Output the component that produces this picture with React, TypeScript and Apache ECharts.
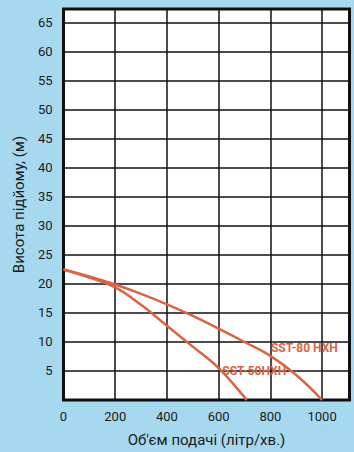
import React, { useEffect, useRef } from "react";
import * as echarts from "echarts";

const flowX = [0, 100, 200, 300, 400, 500, 600, 700, 800, 900, 1000];
const sst80 = [22.5, 21.3, 19.9, 18.3, 16.5, 14.5, 12.3, 10.0, 7.6, 4.3, 0];
const flow50 = [0, 100, 200, 300, 400, 500, 600, 700, 708];
const sst50 = [22.5, 21.1, 19.4, 16.4, 12.8, 9.2, 5.5, 0.5, 0];
const labels = ["SST-80 HXH", "SST-50HXH"];
const labelAt: [number, number][] = [[802, 9.0], [614, 5.0]];

const FONT = "Roboto";
const CURVE = "#dc6440";

export default function App() {
  const ref = useRef<HTMLDivElement>(null);
  useEffect(() => {
    if (!ref.current) return;
    const chart = echarts.init(ref.current, undefined, { renderer: "svg" });
    const mk = (i: number) => ({
      symbol: "circle",
      symbolSize: 0,
      silent: true,
      data: [
        {
          coord: labelAt[i],
          label: {
            show: true,
            formatter: labels[i],
            position: "right",
            distance: 0,
            color: CURVE,
            fontWeight: "bold",
            fontSize: 12,
            fontFamily: FONT,
          },
        },
      ],
    });
    chart.setOption({
      animation: false,
      backgroundColor: "#a6d9f0",
      grid: {
        left: 63.5,
        top: 9,
        right: 4.5,
        bottom: 51,
        show: true,
        backgroundColor: "#ffffff",
        borderColor: "#111111",
        borderWidth: 3,
        z: 0,
      },
      xAxis: {
        type: "value",
        min: 0,
        max: 1106,
        interval: 200,
        name: "Об'єм подачі (літр/хв.)",
        nameLocation: "middle",
        nameGap: 32,
        nameTextStyle: { fontSize: 15, color: "#1a1a1a", fontFamily: FONT },
        axisLine: { show: false },
        axisTick: { show: false },
        axisLabel: {
          fontSize: 13,
          color: "#1a1a1a",
          fontFamily: FONT,
          margin: 10,
          formatter: (v: number) => (v % 200 === 0 ? String(v) : ""),
        },
        splitLine: { show: true, lineStyle: { color: "#111111", width: 1.5 } },
      },
      yAxis: {
        type: "value",
        min: 0,
        max: 67.4,
        interval: 5,
        name: "Висота підйому, (м)",
        nameLocation: "middle",
        nameGap: 34,
        nameRotate: 90,
        nameTextStyle: { fontSize: 15, color: "#1a1a1a", fontFamily: FONT },
        axisLine: { show: false },
        axisTick: { show: false },
        axisLabel: {
          fontSize: 13,
          color: "#1a1a1a",
          fontFamily: FONT,
          margin: 11,
          formatter: (v: number) => (v > 0 && v % 5 === 0 ? String(v) : ""),
        },
        splitLine: { show: true, lineStyle: { color: "#111111", width: 1.5 } },
      },
      series: [
        {
          type: "line",
          data: flowX.map((x, i) => [x, sst80[i]]),
          smooth: 0.4,
          symbol: "none",
          lineStyle: { color: CURVE, width: 2.5 },
          markPoint: mk(0),
          z: 3,
        },
        {
          type: "line",
          data: flow50.map((x, i) => [x, sst50[i]]),
          smooth: 0.4,
          symbol: "none",
          lineStyle: { color: CURVE, width: 2.5 },
          markPoint: mk(1),
          z: 3,
        },
      ],
    });
    return () => chart.dispose();
  }, []);
  return (
    <div
      ref={ref}
      style={{ position: "fixed", left: 0, top: 0, width: 354, height: 452 }}
    />
  );
}
